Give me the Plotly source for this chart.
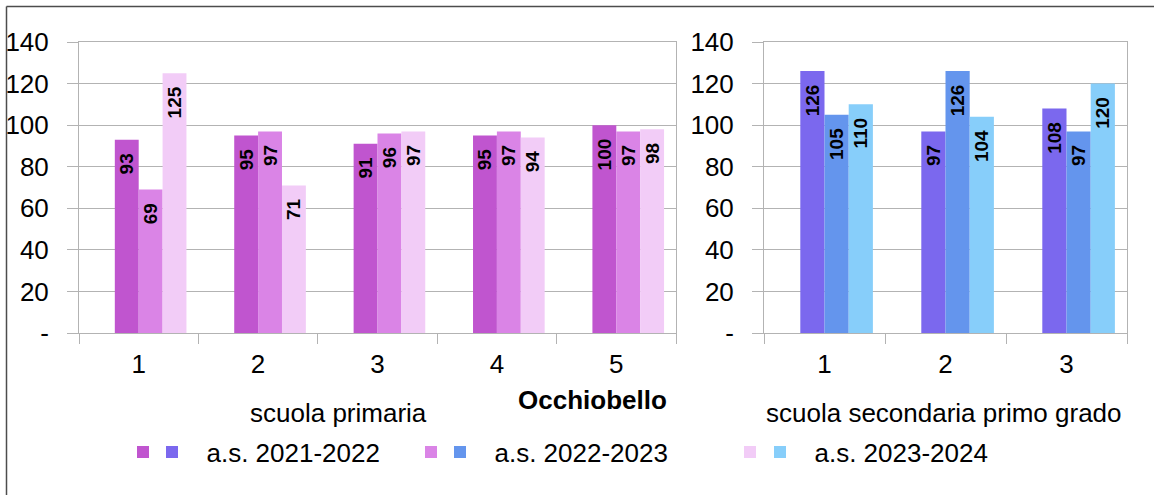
import plotly.graph_objects as go

# ---------------- data ----------------
cat_primaria = ["1", "2", "3", "4", "5"]
cat_secondaria = ["1", "2", "3"]
years = ["a.s. 2021-2022", "a.s. 2022-2023", "a.s. 2023-2024"]

primaria_2021 = [93, 95, 91, 95, 100]
primaria_2022 = [69, 97, 96, 97, 97]
primaria_2023 = [125, 71, 97, 94, 98]

secondaria_2021 = [126, 97, 108]
secondaria_2022 = [105, 126, 97]
secondaria_2023 = [110, 104, 120]

ytick_vals = [0, 20, 40, 60, 80, 100, 120, 140]
ytick_text = ["-", "20", "40", "60", "80", "100", "120", "140"]

# ---------------- style ----------------
W, H = 1154, 495
ML, MR, MT, MB = 79, 27, 42, 162
PW, PH = W - ML - MR, H - MT - MB

def px_x(p):
    return (p - ML) / PW

def px_y(p):
    return (H - MB - p) / PH

FONT = "Liberation Sans, Arial, sans-serif"
FS = 26
prim_colors = ["#C055CF", "#DA84E6", "#F2CCF7"]
sec_colors = ["#7B68EE", "#6495ED", "#87CEFA"]
GRID = "#B3B3B3"
offsets = [-0.2, 0.0, 0.2]
NB = "\u00a0\u00a0"
# legend squares left edges (px) for primary / secondary swatches
sq_prim = [136, 424, 743]
sq_sec = [165, 453, 773]
SYM_OFF = 13

fig = go.Figure()

prim_series = [primaria_2021, primaria_2022, primaria_2023]
sec_series = [secondaria_2021, secondaria_2022, secondaria_2023]

for i in range(3):
    fig.add_trace(go.Bar(
        x=cat_primaria, y=prim_series[i], name="",
        marker=dict(color=prim_colors[i], line=dict(width=0)),
        offset=offsets[i], width=0.2,
        texttemplate="%{y}" + NB, textposition="inside", insidetextanchor="end",
        textangle=-90, constraintext="none",
        textfont=dict(family=FONT, size=19, color="black", weight="bold"),
        xaxis="x", yaxis="y", legend="legend" if i == 0 else f"legend{2 * i + 1}",
    ))
    fig.add_trace(go.Bar(
        x=cat_secondaria, y=sec_series[i], name=NB + years[i],
        marker=dict(color=sec_colors[i], line=dict(width=0)),
        offset=offsets[i], width=0.2,
        texttemplate="%{y}" + NB, textposition="inside", insidetextanchor="end",
        textangle=-90, constraintext="none",
        textfont=dict(family=FONT, size=19, color="black", weight="bold"),
        xaxis="x2", yaxis="y2", legend=f"legend{2 * i + 2}",
    ))

xaxis_common = dict(
    type="category", showgrid=False, tickson="boundaries",
    ticks="outside", ticklen=10, tickcolor=GRID, tickwidth=1,
    showline=True, linecolor=GRID, linewidth=1, mirror=True,
    tickfont=dict(family=FONT, size=FS, color="black"),
    ticklabelstandoff=8, zeroline=False, automargin=False,
)
yaxis_common = dict(
    range=[0, 140], tickvals=ytick_vals, ticktext=ytick_text,
    showgrid=True, gridcolor=GRID, gridwidth=1,
    ticks="outside", ticklen=11, tickcolor=GRID, tickwidth=1,
    showline=True, linecolor=GRID, linewidth=1, mirror=True,
    tickfont=dict(family=FONT, size=FS, color="black"),
    ticklabelstandoff=13, zeroline=False, automargin=False,
)

leg_y = px_y(452)
legend_common = dict(
    orientation="h", yanchor="middle", y=leg_y, xanchor="left",
    font=dict(family=FONT, size=FS, color="black"),
    bgcolor="rgba(0,0,0,0)", borderwidth=0, traceorder="normal",
)
legend_layout = {}
for i in range(3):
    k1 = "legend" if i == 0 else f"legend{2 * i + 1}"
    k2 = f"legend{2 * i + 2}"
    legend_layout[k1] = dict(x=px_x(sq_prim[i] - SYM_OFF), **legend_common)
    legend_layout[k2] = dict(x=px_x(sq_sec[i] - SYM_OFF), **legend_common)

fig.update_layout(
    width=W, height=H,
    margin=dict(l=ML, r=MR, t=MT, b=MB, autoexpand=False),
    paper_bgcolor="white", plot_bgcolor="white",
    barmode="group",
    font=dict(family=FONT, size=FS, color="black"),
    xaxis=dict(domain=[0, px_x(676)], anchor="y", range=[-0.5, len(cat_primaria) - 0.5], **xaxis_common),
    yaxis=dict(domain=[0, 1], anchor="x", **yaxis_common),
    xaxis2=dict(domain=[px_x(764), 1], anchor="y2", range=[-0.5, len(cat_secondaria) - 0.5], **xaxis_common),
    yaxis2=dict(domain=[0, 1], anchor="x2", **yaxis_common),
    showlegend=True,
    annotations=[
        dict(text="scuola primaria", xref="paper", yref="paper",
             x=px_x(338), y=px_y(413), showarrow=False,
             xanchor="center", yanchor="middle",
             font=dict(family=FONT, size=FS, color="black")),
        dict(text="<b>Occhiobello</b>", xref="paper", yref="paper",
             x=px_x(592), y=px_y(400), showarrow=False,
             xanchor="center", yanchor="middle",
             font=dict(family=FONT, size=FS, color="black")),
        dict(text="scuola secondaria primo grado", xref="paper", yref="paper",
             x=px_x(944), y=px_y(413), showarrow=False,
             xanchor="center", yanchor="middle",
             font=dict(family=FONT, size=FS, color="black")),
    ],
    shapes=[
        dict(type="line", xref="paper", yref="paper",
             x0=px_x(6.5), x1=px_x(6.5), y0=px_y(H), y1=px_y(6.5),
             line=dict(color="#4D4D4D", width=1.5)),
        dict(type="line", xref="paper", yref="paper",
             x0=px_x(6.5), x1=px_x(W), y0=px_y(6.5), y1=px_y(6.5),
             line=dict(color="#4D4D4D", width=1.5)),
    ],
    **legend_layout,
)

fig.write_html(
    "out.html",
    config={"displayModeBar": False},
    post_script="document.body.style.margin='0px';document.body.style.overflow='hidden';",
)
